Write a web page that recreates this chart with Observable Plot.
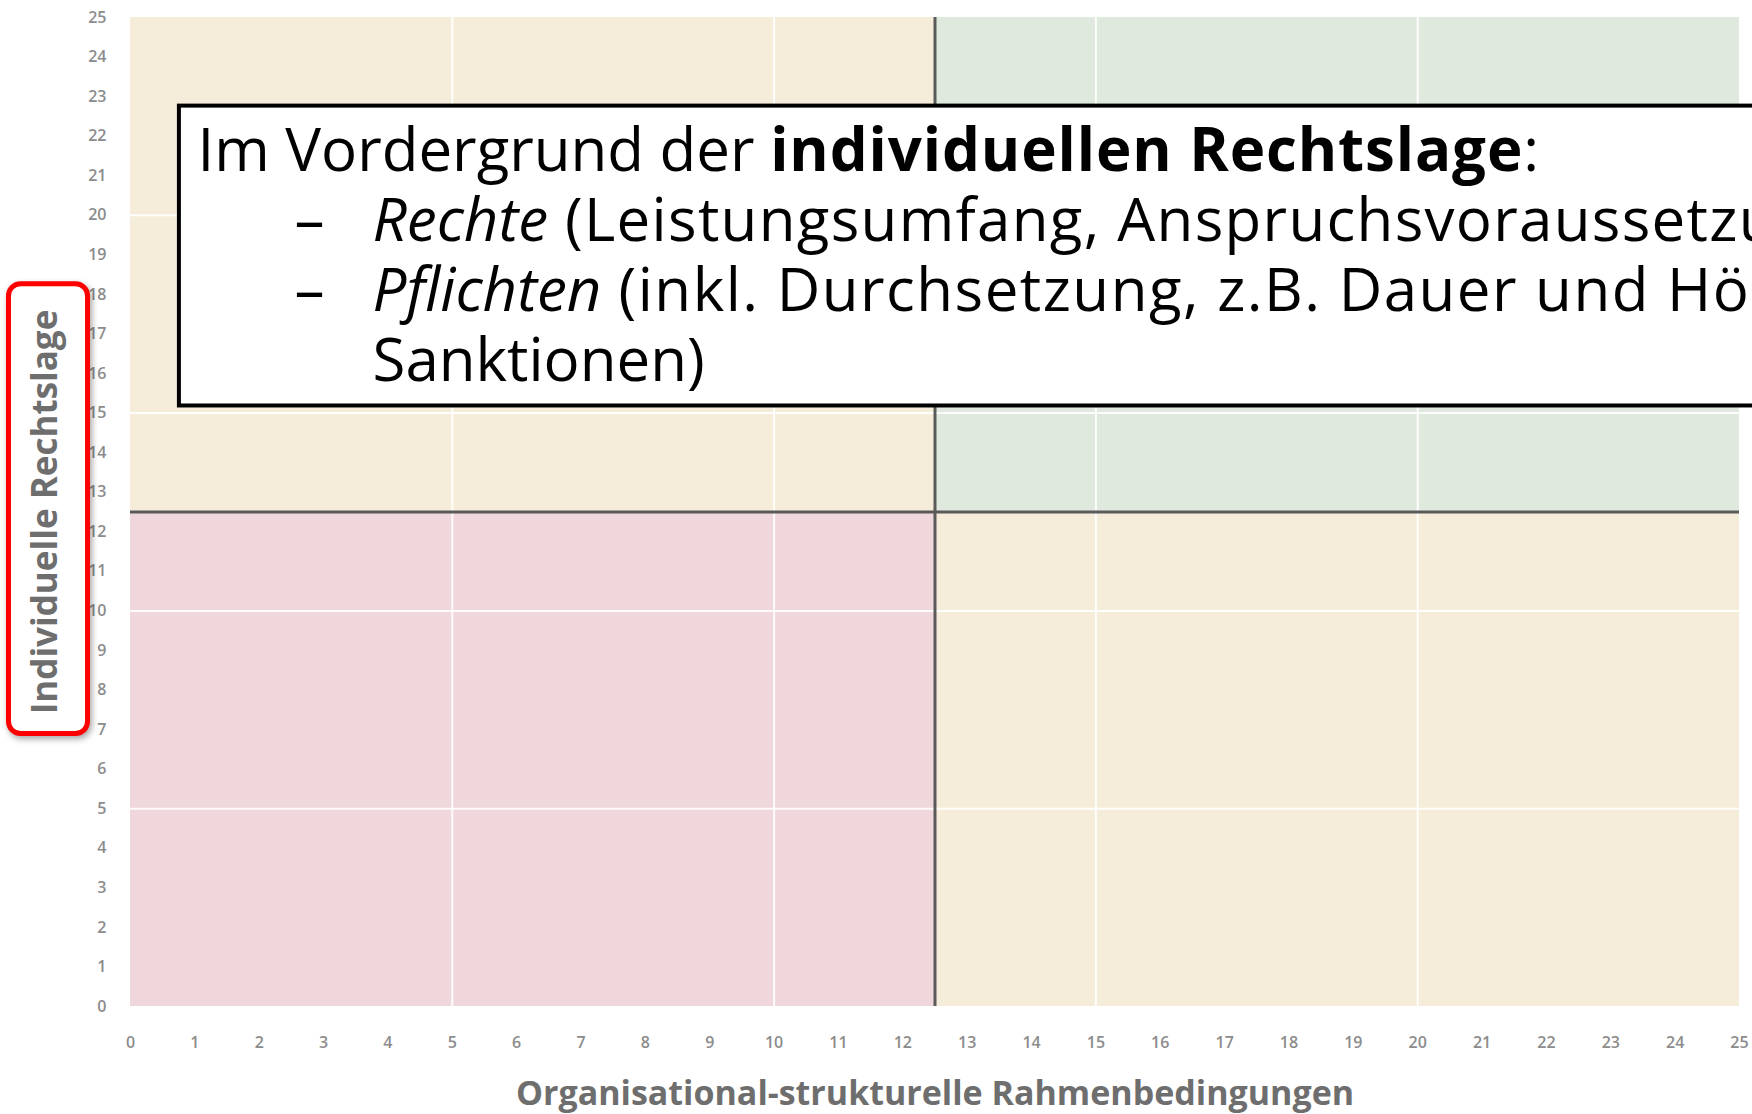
<!DOCTYPE html>
<html>
<head>
<meta charset="utf-8">
<script src="https://cdn.jsdelivr.net/npm/d3@7"></script>
<script src="https://cdn.jsdelivr.net/npm/@observablehq/plot@0.6"></script>
<style>
  html, body { margin: 0; padding: 0; background: #fff; overflow: hidden; }
  #chart svg { display: block; max-width: none; }
</style>
</head>
<body>
<div id="chart"></div>
<script>
// ---- data ----
const xTicks = d3.range(0, 26);
const yTicks = d3.range(0, 26);
const quadX1 = [0, 12.5, 0, 12.5];
const quadX2 = [12.5, 25, 12.5, 25];
const quadY1 = [12.5, 12.5, 0, 0];
const quadY2 = [25, 25, 12.5, 12.5];
const quadColors = ["#f5edda", "#e0e9dd", "#efd7dc", "#f5edda"];
const gridValues = [5, 10, 15, 20];
const dividerValue = [12.5];

const xLabel = "Organisational-strukturelle Rahmenbedingungen";
const yLabel = "Individuelle Rechtslage";

// highlight box around y label (data units)
const highlightBox = [{x1: -1.888, x2: -0.660, y1: 6.89, y2: 18.26}];
// callout box (data units)
const calloutBox = [{x1: 0.76, x2: 26, y1: 15.18, y2: 22.76}];

// callout text lines: segments [text, style]
const calloutLines = [
  {x: 1.04, y: 21.11, segs: [["Im Vordergrund der ", "n"], ["individuellen Rechtslage", "b"], [":", "n"]]},
  {x: 3.76, y: 19.34, segs: [["Rechte", "i"], [" (Leistungsumfang, Anspruchsvoraussetzungen)", "n"]]},
  {x: 3.76, y: 17.59, segs: [["Pflichten", "i"], [" (inkl. Durchsetzung, z.B. Dauer und Höhe von", "n"]]},
  {x: 3.76, y: 15.82, segs: [["Sanktionen)", "n"]]}
];
const calloutSpacing = [0, 1.3, 1.5, 0];
const boldSpacing = 0.9;
const dashLines = [
  {x: 2.55, y: 19.34, t: "–"},
  {x: 2.55, y: 17.59, t: "–"}
];

// ---- chart ----
const quads = quadX1.map((d, i) => ({x1: quadX1[i], x2: quadX2[i], y1: quadY1[i], y2: quadY2[i], c: quadColors[i]}));
const calloutFont = "'Open Sans', 'DejaVu Sans', sans-serif";
const joined = l => l.segs.map(s => s[0]).join("");

const chart = Plot.plot({
  width: 1752,
  height: 1114,
  marginLeft: 130,
  marginRight: 13,
  marginTop: 17,
  marginBottom: 108,
  style: {fontFamily: "'Open Sans', 'Noto Sans', sans-serif", fontSize: "16px", fontWeight: 600, color: "#8c8c8c", background: "#fff"},
  color: {type: "identity"},
  x: {domain: [0, 25], ticks: xTicks, tickSize: 0, tickPadding: 30, label: null, tickFormat: d => String(d)},
  y: {domain: [0, 25], ticks: yTicks, tickSize: 0, tickPadding: 24, label: null, tickFormat: d => String(d)},
  marks: [
    Plot.rect(quads, {x1: "x1", x2: "x2", y1: "y1", y2: "y2", fill: "c"}),
    Plot.ruleX(gridValues, {stroke: "#ffffff", strokeWidth: 2, strokeOpacity: 0.9}),
    Plot.ruleY(gridValues, {stroke: "#ffffff", strokeWidth: 2, strokeOpacity: 0.9}),
    Plot.ruleX(dividerValue, {stroke: "#5a5a5a", strokeWidth: 3}),
    Plot.ruleY(dividerValue, {stroke: "#5a5a5a", strokeWidth: 3}),
    Plot.rect(calloutBox, {x1: "x1", x2: "x2", y1: "y1", y2: "y2", fill: "#ffffff", stroke: "#000000", strokeWidth: 4}),
    Plot.text(dashLines, {x: "x", y: "y", text: "t", textAnchor: "start", lineAnchor: "bottom", fontSize: 60, fontWeight: 400, fill: "#000", fontFamily: calloutFont}),
    Plot.text(calloutLines, {x: "x", y: "y", text: joined, textAnchor: "start", lineAnchor: "bottom", fontSize: 60, fontWeight: 400, fill: "#000", fontFamily: calloutFont}),
    Plot.rect(highlightBox, {x1: "x1", x2: "x2", y1: "y1", y2: "y2", fill: "#ffffff", stroke: "#ff0000", strokeWidth: 5, rx: 12}),
    Plot.text([yLabel], {frameAnchor: "left", textAnchor: "middle", lineAnchor: "middle", dx: -85, rotate: -90, fontSize: 35, fontWeight: 700, fill: "#6e6e6e"}),
    Plot.text([xLabel], {frameAnchor: "bottom", textAnchor: "middle", lineAnchor: "bottom", dy: 98, fontSize: 34, fontWeight: 700, fill: "#6e6e6e"})
  ]
});

// rich text segments for callout
const svg = d3.select(chart);
svg.selectAll("text").each(function() {
  const idx = calloutLines.findIndex(l => joined(l) === this.textContent);
  if (idx < 0) return;
  const line = calloutLines[idx];
  const el = d3.select(this);
  el.text(null);
  line.segs.forEach(([t, s]) => {
    const ts = el.append("tspan").text(t);
    if (s === "b") ts.attr("font-weight", 700).attr("letter-spacing", boldSpacing);
    if (s === "i") ts.attr("font-style", "italic");
    if (s === "n" && calloutSpacing[idx]) ts.attr("letter-spacing", calloutSpacing[idx]);
  });
});
svg.selectAll('g[stroke="#ff0000"] rect').style("filter", "drop-shadow(2px 3px 3px rgba(0,0,0,0.35))");

document.getElementById("chart").appendChild(chart);
</script>
</body>
</html>
